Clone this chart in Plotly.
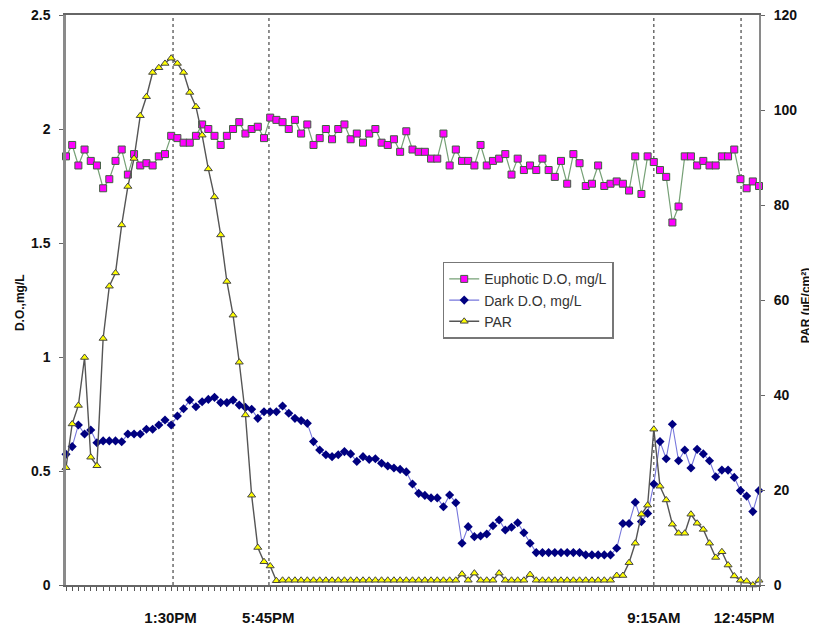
import plotly.graph_objects as go

# ---------------- data ----------------
sample_index = list(range(113))

euphotic_do = [
    1.88, 1.93, 1.84, 1.91, 1.86, 1.84, 1.74, 1.78, 1.86, 1.91,
    1.80, 1.89, 1.84, 1.85, 1.84, 1.88, 1.89, 1.97, 1.96, 1.94,
    1.94, 1.97, 2.02, 2.00, 1.97, 1.93, 1.97, 2.00, 2.03, 1.98,
    2.00, 2.01, 1.96, 2.05, 2.04, 2.03, 2.00, 2.04, 1.98, 2.02,
    1.93, 1.96, 2.00, 1.955, 2.00, 2.02, 1.955, 1.98, 1.94, 1.98,
    2.00, 1.94, 1.93, 1.955, 1.90, 1.99, 1.91, 1.90, 1.90, 1.87,
    1.87, 1.98, 1.84, 1.91, 1.86, 1.86, 1.84, 1.93, 1.84, 1.86,
    1.87, 1.89, 1.80, 1.87, 1.82, 1.84, 1.82, 1.87, 1.82, 1.79,
    1.86, 1.76, 1.89, 1.85, 1.75, 1.76, 1.84, 1.75, 1.76, 1.77,
    1.76, 1.73, 1.88, 1.715, 1.88, 1.855, 1.82, 1.79, 1.59, 1.66,
    1.88, 1.88, 1.84, 1.86, 1.84, 1.84, 1.88, 1.88, 1.91, 1.78,
    1.74, 1.77, 1.75,
]

dark_do = [
    0.573, 0.607, 0.702, 0.662, 0.680, 0.624, 0.632, 0.632, 0.632, 0.628,
    0.662, 0.662, 0.662, 0.683, 0.683, 0.702, 0.724, 0.702, 0.741, 0.773,
    0.811, 0.782, 0.804, 0.814, 0.823, 0.800, 0.800, 0.811, 0.789, 0.779,
    0.771, 0.731, 0.760, 0.760, 0.760, 0.785, 0.753, 0.731, 0.721, 0.709,
    0.629, 0.592, 0.571, 0.563, 0.571, 0.585, 0.575, 0.542, 0.563, 0.551,
    0.554, 0.534, 0.522, 0.513, 0.507, 0.496, 0.443, 0.402, 0.393, 0.382,
    0.382, 0.343, 0.395, 0.361, 0.183, 0.256, 0.212, 0.215, 0.224, 0.260,
    0.285, 0.241, 0.253, 0.273, 0.229, 0.183, 0.142, 0.142, 0.142, 0.142,
    0.142, 0.142, 0.142, 0.142, 0.132, 0.132, 0.132, 0.132, 0.132, 0.161,
    0.270, 0.270, 0.363, 0.278, 0.314, 0.443, 0.629, 0.554, 0.705, 0.545,
    0.592, 0.513, 0.595, 0.575, 0.545, 0.475, 0.504, 0.504, 0.472, 0.414,
    0.390, 0.322, 0.414,
]

par = [
    24.7, 33.9, 37.8, 47.9, 26.9, 25.1, 51.9, 62.9, 65.7, 75.8,
    83.9, 89.8, 98.8, 102.8, 107.9, 108.9, 109.8, 110.9, 109.8, 107.9,
    103.7, 100.7, 94.7, 87.6, 81.7, 73.7, 63.9, 56.8, 46.9, 35.8,
    18.9, 7.9, 4.9, 4.0, 0.9, 1.0, 1.0, 1.0, 1.0, 1.0,
    1.0, 1.0, 1.0, 1.0, 1.0, 1.0, 1.0, 1.0, 1.0, 1.0,
    1.0, 1.0, 1.0, 1.0, 1.0, 1.0, 1.0, 1.0, 1.0, 1.0,
    1.0, 1.0, 1.0, 1.0, 2.3, 1.0, 2.5, 1.0, 1.0, 1.0,
    2.5, 1.0, 1.0, 1.0, 1.0, 2.2, 1.0, 1.0, 1.0, 1.0,
    1.0, 1.0, 1.0, 1.0, 1.0, 1.0, 1.0, 1.0, 1.0, 2.0,
    2.0, 4.7, 8.8, 14.9, 16.8, 32.8, 20.8, 17.9, 12.8, 10.9,
    10.9, 14.9, 13.0, 11.7, 8.8, 5.8, 7.0, 4.2, 1.9, 1.0,
    0.8, 0.0, 1.0,
]

time_labels = ["1:30PM", "5:45PM", "9:15AM", "12:45PM"]
time_label_pos = [16.9, 32.7, 95.0, 109.6]
marker_line_pos = [17.3, 32.8, 95.0, 109.1]

FONT = "Liberation Sans, Arial, sans-serif"

# ---------------- figure ----------------
fig = go.Figure()

fig.add_trace(go.Scatter(
    x=sample_index, y=euphotic_do, name="Euphotic D.O, mg/L",
    mode="lines+markers", cliponaxis=False,
    line=dict(color="#76a076", width=1.2),
    marker=dict(symbol="square", size=7, color="#ff00ff",
                line=dict(color="#3f5f3f", width=1)),
    xaxis="x", yaxis="y",
))
fig.add_trace(go.Scatter(
    x=sample_index, y=dark_do, name="Dark D.O, mg/L",
    mode="lines+markers", cliponaxis=False,
    line=dict(color="#7676dc", width=1.1),
    marker=dict(symbol="diamond", size=7, color="#000080",
                line=dict(color="#000080", width=0)),
    xaxis="x", yaxis="y",
))
fig.add_trace(go.Scatter(
    x=sample_index, y=par, name="PAR",
    mode="lines+markers", cliponaxis=False,
    line=dict(color="#555555", width=1.4),
    marker=dict(symbol="triangle-up", size=7, color="#ffff00",
                line=dict(color="#444444", width=1)),
    xaxis="x", yaxis="y2",
))

for p in marker_line_pos:
    fig.add_shape(type="line", xref="x", yref="paper", x0=p, x1=p, y0=0, y1=1,
                  line=dict(color="#555555", width=1.3, dash="dot"), layer="below")

tickfont_x = dict(family=FONT, size=15, color="#111111", weight="bold")
tickfont_y = dict(family=FONT, size=14, color="#111111", weight="bold")
title_font = dict(family=FONT, size=12, color="#111111", weight="bold")

# the page body adds an 8px offset, so the figure is sized/margined to compensate
fig.update_layout(
    width=809, height=619,
    margin=dict(l=58, r=58, t=7, b=42, autoexpand=False),
    paper_bgcolor="white", plot_bgcolor="white",
    showlegend=True,
    xaxis=dict(
        range=[0, 112], tickmode="array", tickvals=time_label_pos, ticktext=time_labels,
        ticks="", showline=True, linecolor="#666666", linewidth=1.5, mirror=True,
        showgrid=False, zeroline=False, tickfont=tickfont_x, ticklabelstandoff=18,
        automargin=False, ticklabeloverflow="allow",
        minor=dict(tickmode="linear", tick0=0, dtick=1, ticks="outside", ticklen=4,
                   tickcolor="#555555", tickwidth=1, showgrid=False),
    ),
    xaxis2=dict(
        overlaying="x", anchor="y", side="bottom", range=[0, 112],
        tickmode="linear", tick0=0, dtick=1, ticks="inside", ticklen=4,
        tickcolor="#555555", tickwidth=1, showticklabels=False,
        showline=False, showgrid=False, zeroline=False, automargin=False,
    ),
    yaxis=dict(
        range=[0, 2.5], tickmode="linear", tick0=0, dtick=0.5, ticks="outside", ticklen=4,
        tickcolor="#666666", showline=True, linecolor="#8a8a8a", linewidth=2.5,
        showgrid=False, zeroline=False, tickfont=tickfont_y, ticklabelstandoff=6,
        automargin=False, ticklabeloverflow="allow",
    ),
    yaxis3=dict(
        overlaying="y", anchor="x", side="left", range=[0, 2.5],
        tickmode="linear", tick0=0, dtick=0.5, ticks="inside", ticklen=4,
        tickcolor="#666666", showticklabels=False, showline=False,
        showgrid=False, zeroline=False, automargin=False,
    ),
    yaxis2=dict(
        overlaying="y", anchor="x", side="right", range=[0, 120],
        tickmode="linear", tick0=0, dtick=20, ticks="outside", ticklen=4,
        tickcolor="#666666", showline=True, linecolor="#8a8a8a", linewidth=2,
        showgrid=False, zeroline=False, tickfont=tickfont_y, ticklabelstandoff=6,
        automargin=False, ticklabeloverflow="allow",
    ),
    yaxis4=dict(
        overlaying="y", anchor="x", side="right", range=[0, 120],
        tickmode="linear", tick0=0, dtick=20, ticks="inside", ticklen=4,
        tickcolor="#666666", showticklabels=False, showline=False,
        showgrid=False, zeroline=False, automargin=False,
    ),
    legend=dict(
        x=0.5436, y=0.567, xanchor="left", yanchor="top",
        bgcolor="white", bordercolor="#777777", borderwidth=1.5,
        font=dict(family=FONT, size=14, color="#333333"),
        tracegroupgap=0, itemwidth=30,
    ),
    annotations=[
        dict(text="D.O.,mg/L", xref="paper", yref="paper",
             x=-0.066, y=0.495, xanchor="center", yanchor="middle",
             textangle=-90, showarrow=False, font=title_font),
        dict(text="PAR (µE/cm²)", xref="paper", yref="paper",
             x=1.067, y=0.49, xanchor="center", yanchor="middle",
             textangle=-90, showarrow=False, font=title_font),
    ],
)

fig.write_html("out.html")
